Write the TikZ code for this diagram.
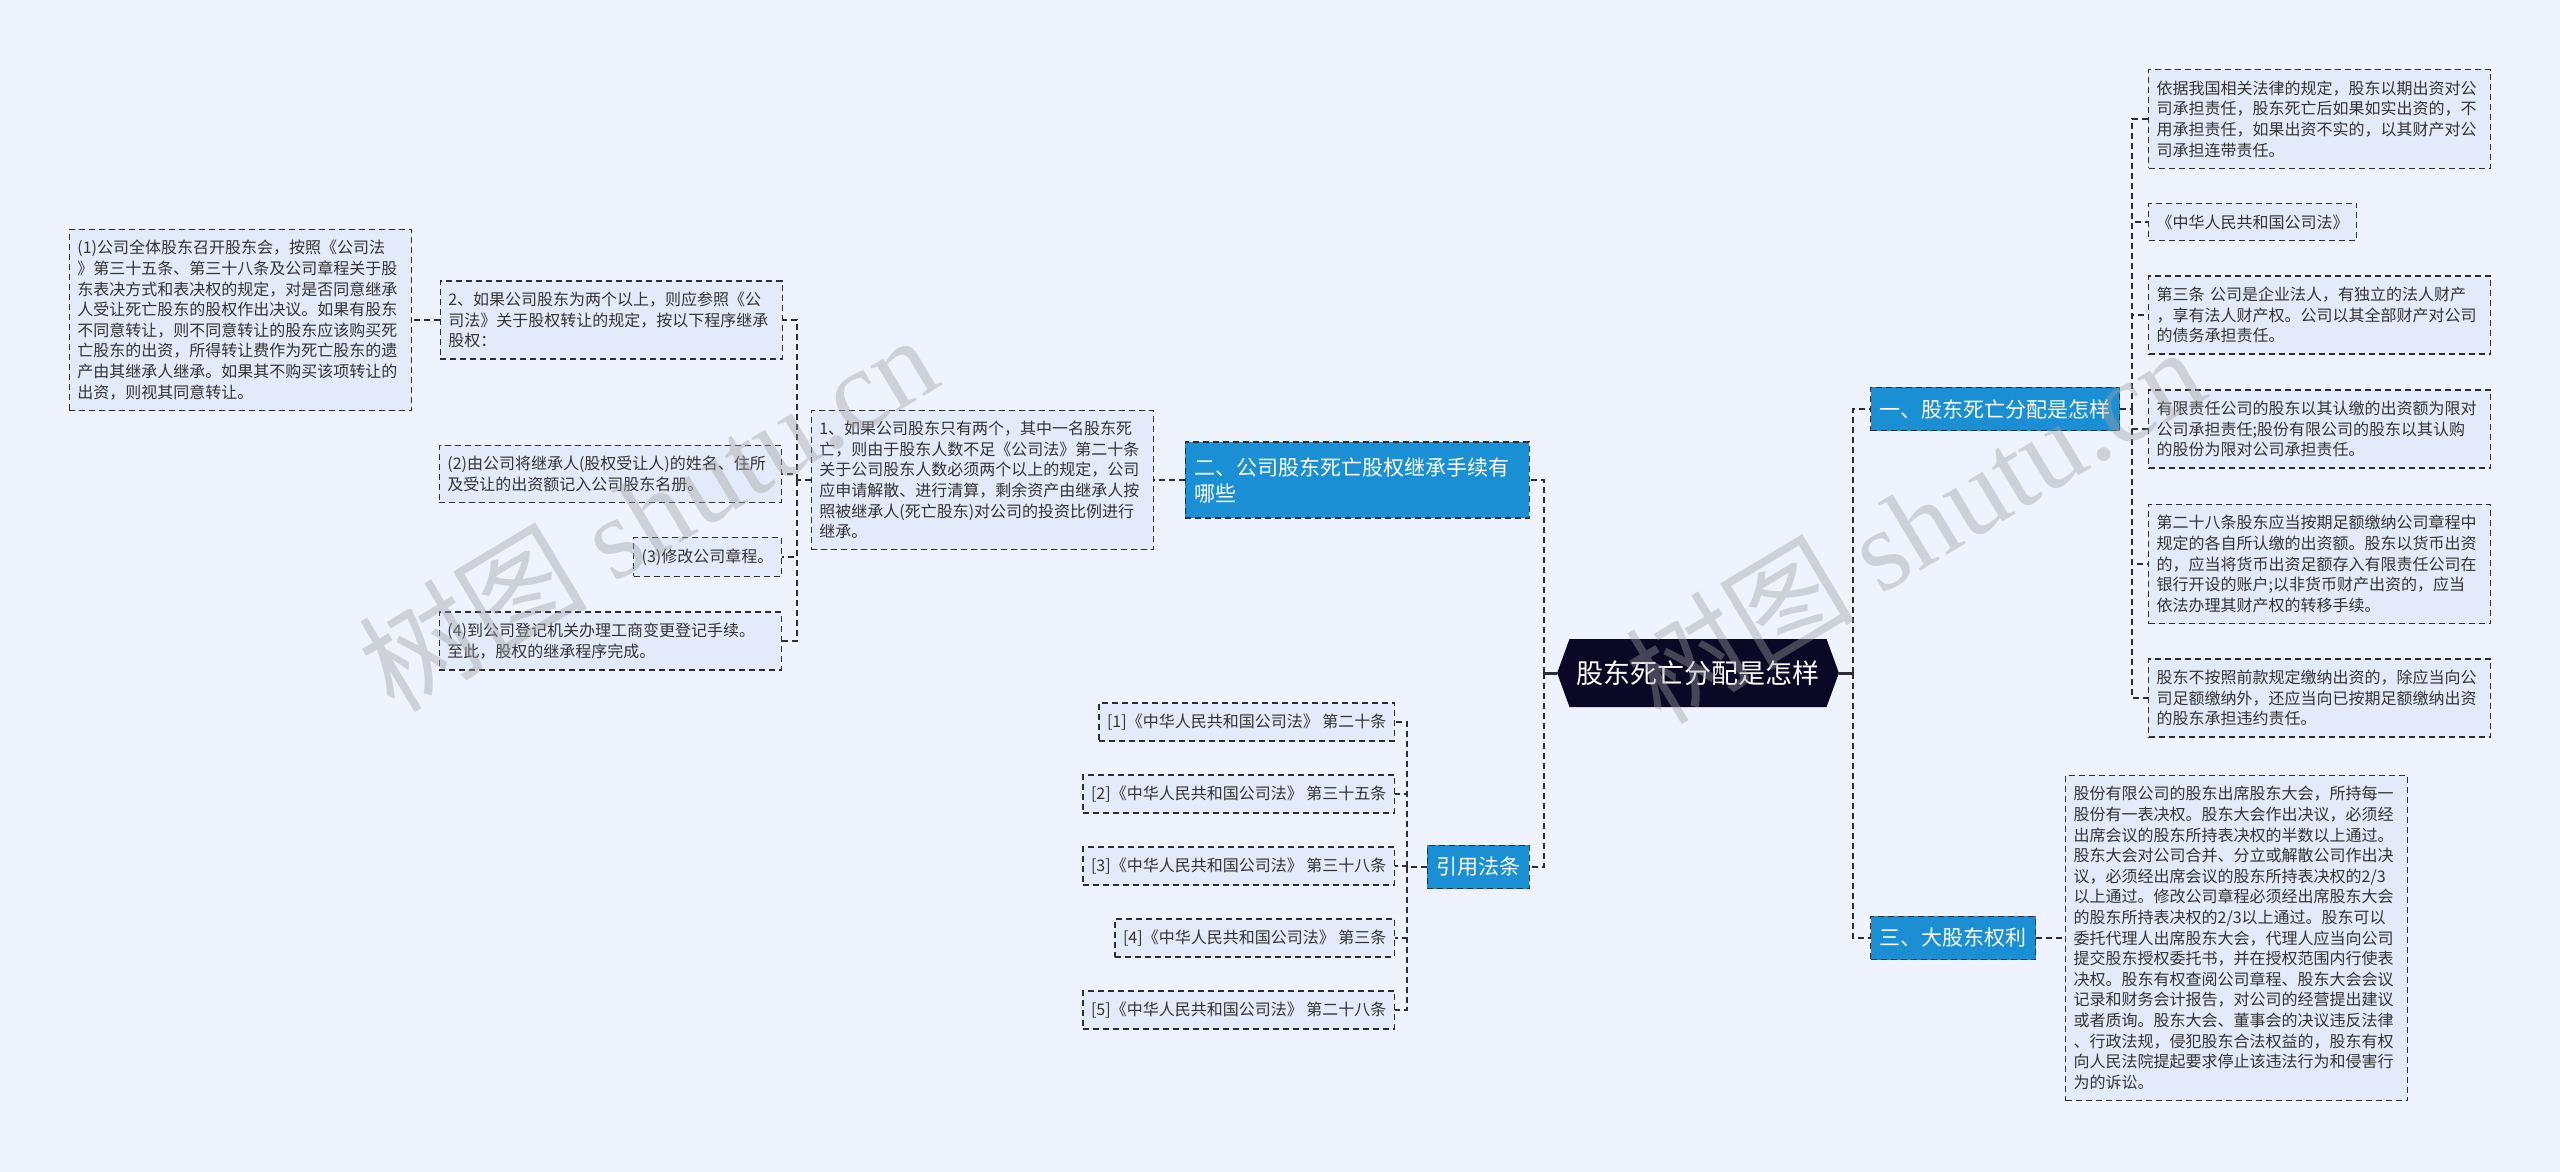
\documentclass[tikz,border=0pt]{standalone}
\usepackage{fontspec}
\setmainfont{Noto Sans CJK SC}
\newfontfamily\wmserif{Liberation Serif}
\usetikzlibrary{shapes.symbols}
\definecolor{bgcol}{RGB}{238,243,253}
\definecolor{leaffill}{RGB}{227,235,250}
\definecolor{topicblue}{RGB}{27,143,211}
\definecolor{rootfill}{RGB}{11,8,38}
\definecolor{linecol}{RGB}{45,45,55}
\begin{document}
\begin{tikzpicture}[x=1pt,y=-1pt,
    leafbox/.style={draw=linecol, line width=1.3pt, dash pattern=on 6pt off 4pt, fill=leaffill, inner xsep=8pt, inner ysep=11pt, text=black!80, align=left, font=\fontsize{16}{20.6}\selectfont},
    wrapbox/.style={leafbox, text width=326pt},
    topic/.style={draw=linecol, line width=1.3pt, dash pattern=on 6pt off 4pt, fill=topicblue, text=white, inner xsep=9pt, inner ysep=12pt, align=left, font=\fontsize{21}{26}\selectfont},
    rootnode/.style={shape=signal, signal to=west and east, signal pointer angle=140, fill=rootfill, text=white, inner xsep=7pt, minimum height=68pt, font=\fontsize{27}{32}\selectfont},
    link/.style={draw=linecol, line width=2pt, dash pattern=on 6pt off 4pt},
    stem/.style={draw=linecol, line width=3pt},
    wmark/.style={text=gray!75, opacity=0.4, rotate=31, font=\fontsize{115}{120}\selectfont}
]
    \fill[bgcol] (0,0) rectangle (2560,1172);
    \useasboundingbox (0,0) rectangle (2560,1172);

    \node[rootnode] (root) at (1698,673) {股东死亡分配是怎样};

    \node[topic, anchor=west] (sec1) at (1870,409) {一、股东死亡分配是怎样};
    \node[topic, anchor=west] (sec3) at (1870,938) {三、大股东权利};
    \node[topic, anchor=east, text width=326pt, minimum height=76pt] (sec2) at (1530,480) {二、公司股东死亡股权继承手续有\\哪些};
    \node[topic, anchor=east] (cite) at (1530,867) {引用法条};

    \node[wrapbox, anchor=west] (basis) at (2148,119) {依据我国相关法律的规定，股东以期出资对公\\司承担责任，股东死亡后如果如实出资的，不\\用承担责任，如果出资不实的，以其财产对公\\司承担连带责任。};
    \node[leafbox, anchor=west] (lawname) at (2148,222) {《中华人民共和国公司法》};
    \node[wrapbox, anchor=west] (art3) at (2148,315) {第三条 公司是企业法人，有独立的法人财产\\，享有法人财产权。公司以其全部财产对公司\\的债务承担责任。};
    \node[wrapbox, anchor=west] (limit) at (2148,429) {有限责任公司的股东以其认缴的出资额为限对\\公司承担责任;股份有限公司的股东以其认购\\的股份为限对公司承担责任。};
    \node[wrapbox, anchor=west] (art28) at (2148,564) {第二十八条股东应当按期足额缴纳公司章程中\\规定的各自所认缴的出资额。股东以货币出资\\的，应当将货币出资足额存入有限责任公司在\\银行开设的账户;以非货币财产出资的，应当\\依法办理其财产权的转移手续。};
    \node[wrapbox, anchor=west] (breach) at (2148,698) {股东不按照前款规定缴纳出资的，除应当向公\\司足额缴纳外，还应当向已按期足额缴纳出资\\的股东承担违约责任。};

    \node[wrapbox, anchor=west] (rights) at (2065,938) {股份有限公司的股东出席股东大会，所持每一\\股份有一表决权。股东大会作出决议，必须经\\出席会议的股东所持表决权的半数以上通过。\\股东大会对公司合并、分立或解散公司作出决\\议，必须经出席会议的股东所持表决权的2/3\\以上通过。修改公司章程必须经出席股东大会\\的股东所持表决权的2/3以上通过。股东可以\\委托代理人出席股东大会，代理人应当向公司\\提交股东授权委托书，并在授权范围内行使表\\决权。股东有权查阅公司章程、股东大会会议\\记录和财务会计报告，对公司的经营提出建议\\或者质询。股东大会、董事会的决议违反法律\\、行政法规，侵犯股东合法权益的，股东有权\\向人民法院提起要求停止该违法行为和侵害行\\为的诉讼。};

    \node[wrapbox, anchor=east] (step1) at (1154,480) {1、如果公司股东只有两个，其中一名股东死\\亡，则由于股东人数不足《公司法》第二十条\\关于公司股东人数必须两个以上的规定，公司\\应申请解散、进行清算，剩余资产由继承人按\\照被继承人(死亡股东)对公司的投资比例进行\\继承。};
    \node[wrapbox, anchor=east] (step2) at (783,320) {2、如果公司股东为两个以上，则应参照《公\\司法》关于股权转让的规定，按以下程序继承\\股权：};
    \node[wrapbox, anchor=east] (vote) at (412,320) {(1)公司全体股东召开股东会，按照《公司法\\》第三十五条、第三十八条及公司章程关于股\\东表决方式和表决权的规定，对是否同意继承\\人受让死亡股东的股权作出决议。如果有股东\\不同意转让，则不同意转让的股东应该购买死\\亡股东的出资，所得转让费作为死亡股东的遗\\产由其继承人继承。如果其不购买该项转让的\\出资，则视其同意转让。};
    \node[wrapbox, anchor=east] (register) at (782,474) {(2)由公司将继承人(股权受让人)的姓名、住所\\及受让的出资额记入公司股东名册。};
    \node[leafbox, anchor=east] (charter) at (782,557) {(3)修改公司章程。};
    \node[wrapbox, anchor=east] (filing) at (782,641) {(4)到公司登记机关办理工商变更登记手续。\\至此，股权的继承程序完成。};

    \node[leafbox, anchor=east] (ref1) at (1395,722) {[1]《中华人民共和国公司法》 第二十条};
    \node[leafbox, anchor=east] (ref2) at (1395,794) {[2]《中华人民共和国公司法》 第三十五条};
    \node[leafbox, anchor=east] (ref3) at (1395,866) {[3]《中华人民共和国公司法》 第三十八条};
    \node[leafbox, anchor=east] (ref4) at (1395,938) {[4]《中华人民共和国公司法》 第三条};
    \node[leafbox, anchor=east] (ref5) at (1395,1010) {[5]《中华人民共和国公司法》 第二十八条};

    \coordinate (rbus) at (1853,673);
    \coordinate (lbus) at (1544,673);
    \draw[stem] (root.east) -- (rbus);
    \draw[stem] (root.west) -- (lbus);
    \draw[link] (rbus) |- (sec1.west);
    \draw[link] (rbus) |- (sec3.west);
    \draw[link] (lbus) |- (sec2.east);
    \draw[link] (lbus) |- (cite.east);

    \coordinate (abus) at (2132,409);
    \draw[link] (sec1.east) -- (abus);
    \draw[link] (abus) |- (basis.west);
    \draw[link] (abus) |- (lawname.west);
    \draw[link] (abus) |- (art3.west);
    \draw[link] (abus) |- (limit.west);
    \draw[link] (abus) |- (art28.west);
    \draw[link] (abus) |- (breach.west);
    \draw[link] (sec3.east) -- (rights.west);

    \draw[link] (sec2.west) -- (step1.east);
    \coordinate (sbus) at (797,480);
    \draw[link] (step1.west) -- (sbus);
    \draw[link] (sbus) |- (step2.east);
    \draw[link] (sbus) |- (register.east);
    \draw[link] (sbus) |- (charter.east);
    \draw[link] (sbus) |- (filing.east);
    \draw[link] (step2.west) -- (vote.east);

    \coordinate (cbus) at (1407,867);
    \draw[link] (cite.west) -- (cbus);
    \draw[link] (cbus) |- (ref1.east);
    \draw[link] (cbus) |- (ref2.east);
    \draw[link] (cbus) |- (ref3.east);
    \draw[link] (cbus) |- (ref4.east);
    \draw[link] (cbus) |- (ref5.east);

    \node[wmark] (wmleft) at (647,512) {树图 {\wmserif shutu.cn}};
    \node[wmark] (wmright) at (1914,524) {树图 {\wmserif shutu.cn}};
\end{tikzpicture}
\end{document}
